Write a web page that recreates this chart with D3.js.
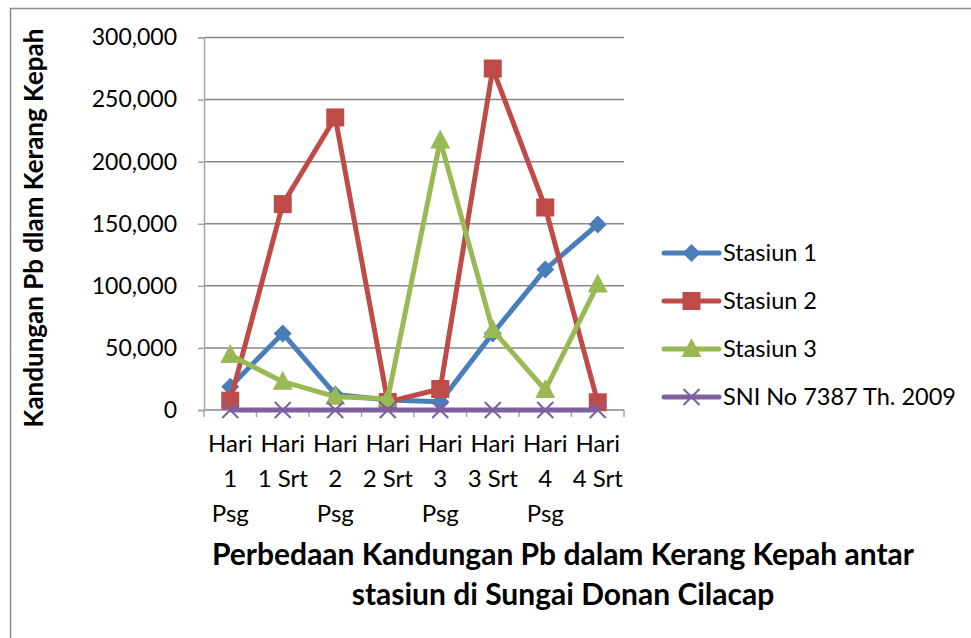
<!DOCTYPE html>
<html>
<head>
<meta charset="utf-8">
<script src="https://cdn.jsdelivr.net/npm/d3@7"></script>
<style>
  body { margin: 0; background: #fff; }
  text { font-family: Lato, "Noto Sans", sans-serif; fill: #000; }
</style>
</head>
<body>
<div id="chart"></div>
<script>
// data
var categories = ["Hari 1 Psg", "Hari 1 Srt", "Hari 2 Psg", "Hari 2 Srt", "Hari 3 Psg", "Hari 3 Srt", "Hari 4 Psg", "Hari 4 Srt"];
var tickLines = [["Hari", "1", "Psg"], ["Hari", "1 Srt"], ["Hari", "2", "Psg"], ["Hari", "2 Srt"],
                 ["Hari", "3", "Psg"], ["Hari", "3 Srt"], ["Hari", "4", "Psg"], ["Hari", "4 Srt"]];
var stasiun1 = [18800, 61700, 12500, 8000, 6700, 61700, 113200, 149400];
var stasiun2 = [7500, 165800, 235600, 6500, 16900, 275000, 163100, 6200];
var stasiun3 = [44300, 22800, 10700, 9000, 217000, 64400, 16100, 101000];
var sni = [0, 0, 0, 0, 0, 0, 0, 0];
var seriesNames = ["Stasiun 1", "Stasiun 2", "Stasiun 3", "SNI No 7387 Th. 2009"];
var yTicks = [0, 50000, 100000, 150000, 200000, 250000, 300000];

var width = 971, height = 638;

var series = [
  { name: seriesNames[0], values: stasiun1, color: "#4A7EBB", marker: "diamond" },
  { name: seriesNames[1], values: stasiun2, color: "#BE4B48", marker: "square" },
  { name: seriesNames[2], values: stasiun3, color: "#98B954", marker: "triangle" },
  { name: seriesNames[3], values: sni, color: "#7D60A0", marker: "x" }
];

var svg = d3.select("#chart").append("svg")
    .attr("width", width)
    .attr("height", height);

svg.append("rect")
    .attr("width", width).attr("height", height)
    .attr("fill", "#fff");

// chart frame
svg.append("rect")
    .attr("x", 10.5).attr("y", 8.5)
    .attr("width", 1000).attr("height", 700)
    .attr("fill", "none")
    .attr("stroke", "#8c8c8c")
    .attr("stroke-width", 1.5);

var x = d3.scaleBand().domain(categories).range([204, 624]);
var y = d3.scaleLinear().domain([0, 300000]).range([410, 37.5]);

// gridlines
svg.append("g").selectAll("line")
    .data(yTicks)
  .enter().append("line")
    .attr("x1", 204).attr("x2", 624)
    .attr("y1", function(d) { return y(d); })
    .attr("y2", function(d) { return y(d); })
    .attr("stroke", "#878787")
    .attr("stroke-width", 1.5);

// y axis
var yAxis = svg.append("g")
    .attr("transform", "translate(204,0)")
    .call(d3.axisLeft(y).tickValues(yTicks).tickFormat(d3.format(",")).tickSize(6).tickPadding(21));
yAxis.select(".domain").attr("stroke", "#a6a6a6").attr("stroke-width", 1.5);
yAxis.selectAll(".tick line").attr("stroke", "#a6a6a6").attr("stroke-width", 1.5);
yAxis.selectAll(".tick text")
    .attr("font-size", 23)
    .attr("font-family", "Lato, sans-serif")
    .attr("fill", "#000");

// x axis ticks at category boundaries
var bounds = categories.map(function(c) { return x(c); }).concat([x.range()[1]]);
svg.append("g").selectAll("line")
    .data(bounds)
  .enter().append("line")
    .attr("x1", function(d) { return d; }).attr("x2", function(d) { return d; })
    .attr("y1", 410).attr("y2", 417)
    .attr("stroke", "#a6a6a6")
    .attr("stroke-width", 1.5);

// x labels
var xl = svg.append("g").selectAll("text")
    .data(categories)
  .enter().append("text")
    .attr("text-anchor", "middle")
    .attr("font-size", 24);
xl.each(function(c, i) {
  var t = d3.select(this);
  tickLines[i].forEach(function(s, j) {
    t.append("tspan")
      .attr("x", x(c) + x.bandwidth() / 2)
      .attr("y", 452 + j * 35)
      .text(s);
  });
});

function marker(g, type, color) {
  if (type === "diamond") {
    g.append("path").attr("d", "M0,-9L9,0L0,9L-9,0Z").attr("fill", color);
  } else if (type === "square") {
    g.append("rect").attr("x", -9).attr("y", -9).attr("width", 18).attr("height", 18).attr("fill", color);
  } else if (type === "triangle") {
    g.append("path").attr("d", "M0,-11L10,8L-10,8Z").attr("fill", color);
  } else {
    g.append("path").attr("d", "M-8,-8L8,8M-8,8L8,-8")
      .attr("stroke", color).attr("stroke-width", 2).attr("fill", "none");
  }
}

var line = d3.line()
    .x(function(d, i) { return x(categories[i]) + x.bandwidth() / 2; })
    .y(function(d) { return y(d); });

series.forEach(function(s) {
  var g = svg.append("g");
  g.append("path")
      .attr("d", line(s.values))
      .attr("fill", "none")
      .attr("stroke", s.color)
      .attr("stroke-width", 5)
      .attr("stroke-linejoin", "round");
  s.values.forEach(function(v, i) {
    var m = g.append("g")
        .attr("transform", "translate(" + (x(categories[i]) + x.bandwidth() / 2) + "," + y(v) + ")");
    marker(m, s.marker, s.color);
  });
});

// legend
var legend = svg.append("g").selectAll("g")
    .data(series)
  .enter().append("g")
    .attr("transform", function(d, i) { return "translate(664," + (253 + i * 48) + ")"; });
legend.append("line")
    .attr("x1", 0).attr("x2", 55)
    .attr("stroke", function(d) { return d.color; })
    .attr("stroke-width", 5)
    .attr("stroke-linecap", "round");
legend.each(function(d) {
  var m = d3.select(this).append("g").attr("transform", "translate(27.5,0)");
  marker(m, d.marker, d.color);
});
legend.append("text")
    .attr("x", 59)
    .attr("dy", "0.35em")
    .attr("font-size", 23.5)
    .text(function(d) { return d.name; });

// axis titles
svg.append("text")
    .attr("transform", "translate(43,228)rotate(-90)")
    .attr("text-anchor", "middle")
    .attr("font-size", 26)
    .attr("font-weight", "bold")
    .text("Kandungan Pb dlam Kerang Kepah");

svg.append("text")
    .attr("x", 563).attr("y", 565)
    .attr("text-anchor", "middle")
    .attr("font-size", 30)
    .attr("font-weight", "bold")
    .text("Perbedaan Kandungan Pb dalam Kerang Kepah antar");
svg.append("text")
    .attr("x", 563).attr("y", 605)
    .attr("text-anchor", "middle")
    .attr("font-size", 30)
    .attr("font-weight", "bold")
    .text("stasiun di Sungai Donan Cilacap");
</script>
</body>
</html>
